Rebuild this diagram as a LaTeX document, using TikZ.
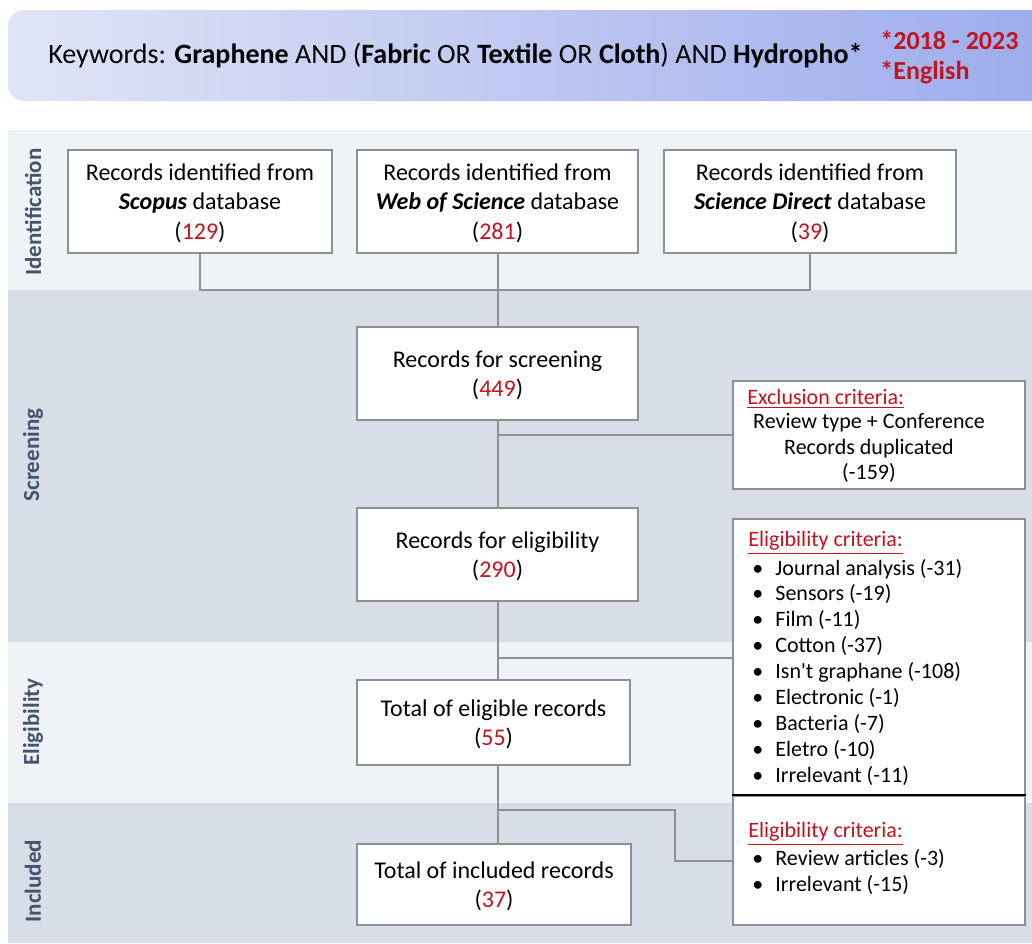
\documentclass[tikz,border=0pt]{standalone}
\usepackage{fontspec}
\setmainfont{Carlito}
\usetikzlibrary{positioning}
\definecolor{bandlight}{HTML}{EFF2F6}
\definecolor{banddark}{HTML}{D7DEE8}
\definecolor{boxline}{HTML}{8C9196}
\definecolor{numred}{HTML}{C0141E}
\definecolor{stage}{HTML}{44546A}
\definecolor{headleft}{HTML}{E0E4F6}
\definecolor{headright}{HTML}{9DACEC}
\newcommand{\nr}[1]{\textcolor{numred}{#1}}
\newcommand{\critlabel}[1]{\textcolor{numred}{\underline{#1}}}
\newcommand{\itm}[1]{\makebox[11.5pt][l]{\textbullet}#1}
\tikzset{
    recbox/.style={draw=boxline, line width=1pt, fill=white, align=center, inner sep=0pt, text depth=0pt,
        font=\fontsize{12}{14.8}\selectfont},
    critbox/.style={draw=boxline, line width=1pt, fill=white, inner sep=0pt},
    crittext/.style={inner sep=0pt, font=\fontsize{11}{12.94}\selectfont},
    stagelabel/.style={rotate=90, text=stage, inner sep=0pt, font=\fontsize{11.5}{13}\selectfont\bfseries},
    link/.style={draw=boxline, line width=1pt},
}
\begin{document}
\begin{tikzpicture}[x=0.5pt, y=-0.5pt]
\path[use as bounding box] (0,0) rectangle (1032,943);

%search header
\shade[left color=headleft, right color=headright, rounded corners=8pt] (8,10) rectangle (1050,101);
\node[anchor=west, inner sep=0pt, font=\fontsize{14}{16}\selectfont] (kw) at (48,56)
    {Keywords: \textbf{Graphene} AND (\textbf{Fabric} OR \textbf{Textile} OR \textbf{Cloth}) AND \textbf{Hydropho*}};
\node[anchor=west, align=left, inner sep=0pt, text=numred, font=\fontsize{13}{15}\selectfont\bfseries] (lim) at (880,57)
    {*2018 - 2023\\*English};

%stage bands
\fill[bandlight] (8,130) rectangle (1032,290);
\fill[banddark] (8,290) rectangle (1032,642);
\fill[bandlight] (8,642) rectangle (1032,803);
\fill[banddark] (8,803) rectangle (1032,943);
\node[stagelabel] (idlab) at (33,212) {Identification};
\node[stagelabel] (scrlab) at (33,455) {Screening};
\node[stagelabel] (eliglab) at (33,722) {Eligibility};
\node[stagelabel] (incllab) at (33,881) {Included};

%records
\node[recbox, minimum width=132pt, minimum height=51.5pt] (scopus) at (200,201.5)
    {Records identified from\\\textbf{\textit{Scopus}} database\\(\nr{129})};
\node[recbox, minimum width=140.5pt, minimum height=51.5pt] (wos) at (497.5,201.5)
    {Records identified from\\\textbf{\textit{Web of Science}} database\\(\nr{281})};
\node[recbox, minimum width=146pt, minimum height=51.5pt] (sd) at (810,201.5)
    {Records identified from\\\textbf{\textit{Science Direct}} database\\(\nr{39})};
\node[recbox, minimum width=140.5pt, minimum height=46.5pt] (screen) at (497.5,373.5)
    {Records for screening\\(\nr{449})};
\node[recbox, minimum width=140.5pt, minimum height=46.5pt] (elig) at (497.5,554.5)
    {Records for eligibility\\(\nr{290})};
\node[recbox, minimum width=136.5pt, minimum height=42.5pt] (total) at (493.5,722.5)
    {Total of eligible records\\(\nr{55})};
\node[recbox, minimum width=137pt, minimum height=40.5pt] (incl) at (494,884.5)
    {Total of included records\\(\nr{37})};

%criteria boxes
\node[critbox, minimum width=146pt, minimum height=54pt] (excl) at (879,435) {};
\node[crittext, anchor=west] (exclT) at (747,399) {\critlabel{Exclusion criteria:}};
\node[crittext, align=center] (exclB) at (869,448) {Review type + Conference\\Records duplicated\\(-159)};

\node[critbox, minimum width=146pt, minimum height=138.5pt] (crit) at (879,657.5) {};
\node[crittext, anchor=west] (critT) at (748,543) {\critlabel{Eligibility criteria:}};
\node[crittext, anchor=west, align=left] (critB) at (752,672)
    {\itm{Journal analysis (-31)}\\\itm{Sensors (-19)}\\\itm{Film (-11)}\\\itm{Cotton (-37)}\\
     \itm{Isn\textquotesingle t graphane (-108)}\\\itm{Electronic (-1)}\\\itm{Bacteria (-7)}\\\itm{Eletro (-10)}\\\itm{Irrelevant (-11)}};

\node[critbox, minimum width=146pt, minimum height=64.5pt] (crit2) at (879,860.5) {};
\node[crittext, anchor=west] (crit2T) at (748,834) {\critlabel{Eligibility criteria:}};
\node[crittext, anchor=west, align=left] (crit2B) at (752,872)
    {\itm{Review articles (-3)}\\\itm{Irrelevant (-15)}};
\draw[black, line width=1.2pt] (crit2.north west) -- (crit2.north east);

%connectors
\coordinate (hub) at (497.5,290);
\coordinate (bend) at (675,810);
\draw[link] (scopus.south) |- (hub) -| (sd.south);
\draw[link] (wos.south) -- (screen.north);
\draw[link] (screen.south) -- (elig.north);
\draw[link] (screen.south |- excl.west) -- (excl.west);
\draw[link] (elig.south) -- (elig.south |- total.north);
\draw[link] (elig.south |- crit.west) -- (crit.west);
\draw[link] (elig.south |- total.south) -- (elig.south |- incl.north);
\draw[link] (elig.south |- bend) -- (bend) |- (crit2.west);
\end{tikzpicture}
\end{document}
